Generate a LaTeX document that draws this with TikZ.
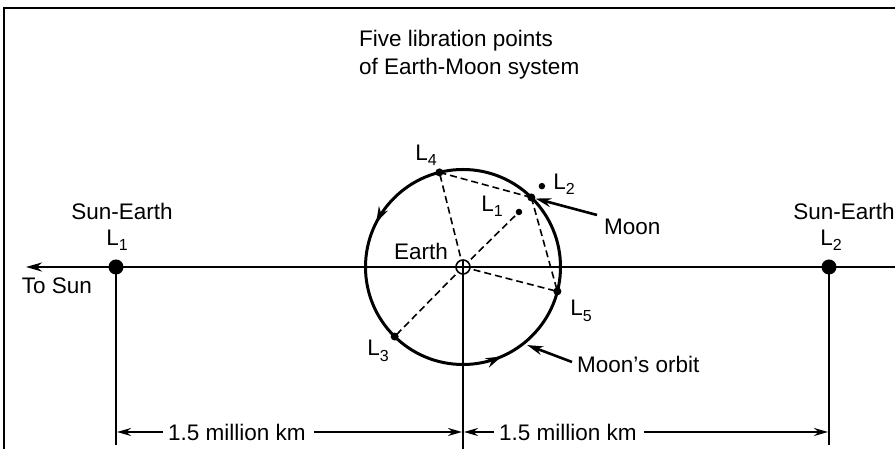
\documentclass[tikz,border=0pt]{standalone}
\usepackage{fontspec}
\setmainfont{Liberation Sans}
\usetikzlibrary{arrows.meta,decorations.markings,calc}
\newcommand{\lsub}[1]{\raisebox{-0.45ex}{\fontsize{16}{16}\selectfont #1}}
\begin{document}
\begin{tikzpicture}[x=1pt,y=1pt,
  lbl/.style={font=\fontsize{22.5}{27}\selectfont, inner sep=0pt},
  frame/.style={line width=2.8pt},
  axis/.style={line width=2.4pt},
  vline/.style={line width=2.4pt},
  dsh/.style={line width=1.6pt, dash pattern=on 7pt off 4pt},
  bigdot/.style={circle, fill, inner sep=0pt, minimum size=15pt},
  pdot/.style={circle, fill, inner sep=0pt, minimum size=8pt},
  sdot/.style={circle, fill, inner sep=0pt, minimum size=6.5pt},
  dimarr/.style={line width=2pt, -{Stealth[length=14pt,width=8pt]}},
  pointer/.style={line width=2.6pt, -{Stealth[length=16pt,width=9pt]}}
]
\useasboundingbox (0,0) rectangle (895,449);
% frame
\coordinate (FTL) at (4,441);
\coordinate (FTR) at (895,441);
\coordinate (FBL) at (4,0);
\draw[frame] (FTR) -- (FTL) -- (FBL);

% axis
\coordinate (E) at (463,182);
\coordinate (AxR) at (895,182);
\coordinate (AxL) at (26,182);
\node[bigdot] (SEL1) at (116,182) {};
\node[bigdot] (SEL2) at (829,182) {};
\draw[axis, -{Stealth[length=16pt,width=9pt]}] (AxR) -- (AxL);

% verticals
\coordinate (V1) at (116,4);
\coordinate (V2) at (463,0);
\coordinate (V3) at (829,4);
\draw[vline] (SEL1.center) -- (V1);
\draw[vline] (E) -- (V2);
\draw[vline] (SEL2.center) -- (V3);

% orbit
\draw[line width=3pt, postaction={decorate}, decoration={markings,
   mark=at position 0.425 with {\arrow{Stealth[length=16pt,width=10pt]}},
   mark=at position 0.815 with {\arrow{Stealth[length=16pt,width=10pt]}}}]
   (E) circle (97.5);

% libration points
\node[pdot] (L4) at ($(E)+(104:97.5)$) {};
\node[pdot] (Moon) at ($(E)+(45.5:97.5)$) {};
\node[pdot] (L5) at ($(E)+(-14.5:97.5)$) {};
\node[pdot] (L3) at ($(E)+(225.5:97.5)$) {};
\node[sdot] (L1) at ($(E)+(44.5:78.5)$) {};
\node[sdot] (L2) at ($(E)+(45.7:113)$) {};

% dashed
\draw[dsh] (E) -- (L4.center);
\draw[dsh] (E) -- (L1.center);
\draw[dsh] (E) -- (L3.center);
\draw[dsh] (E) -- (L5.center);
\draw[dsh] (L4.center) -- (Moon.center);
\draw[dsh] (Moon.center) -- (L5.center);

% earth symbol
\node[circle, draw, line width=1.6pt, fill=white, inner sep=0pt, minimum size=14pt] (Earth) at (E) {};
\draw[line width=1.6pt] ($(E)+(-7,0)$) -- ($(E)+(7,0)$);
\draw[line width=1.6pt] ($(E)+(0,-7)$) -- ($(E)+(0,7)$);

% labels
\node[lbl, align=left, anchor=north west] (title) at (359,419) {Five libration points\\[1pt]of Earth-Moon system};
\node[lbl] (tL4) at (426,294) {L\lsub{4}};
\node[lbl] (tL2) at (564,265) {L\lsub{2}};
\node[lbl] (tL1) at (492,243) {L\lsub{1}};
\node[lbl] (tEarth) at (421,198) {Earth};
\node[lbl] (tL5) at (581,138) {L\lsub{5}};
\node[lbl] (tL3) at (378,98) {L\lsub{3}};
\node[lbl, anchor=west] (tMoon) at (604,222) {Moon};
\node[lbl, anchor=west] (tOrbit) at (577,85) {Moon's orbit};
\node[lbl] (tSE1) at (122,238) {Sun-Earth};
\node[lbl] (tSEL1) at (117,209) {L\lsub{1}};
\node[lbl] (tSun) at (57,163) {To Sun};
\node[lbl] (tSE2) at (844,238) {Sun-Earth};
\node[lbl] (tSEL2) at (831,209) {L\lsub{2}};

% pointers
\coordinate (MoonTail) at (597,234);
\coordinate (OrbTail) at (572,87);
\coordinate (OrbHead) at ($(E)+(-50.6:101)$);
\draw[pointer] (MoonTail) -- (Moon);
\draw[pointer] (OrbTail) -- (OrbHead);

% dimensions
\node[lbl] (d1) at (237,17) {1.5 million km};
\node[lbl] (d2) at (568,17) {1.5 million km};
\coordinate (D1L) at (117,17);
\coordinate (D1R) at (462,17);
\coordinate (D2L) at (464,17);
\coordinate (D2R) at (828,17);
\draw[dimarr] ([xshift=-5pt]d1.west) -- (D1L);
\draw[dimarr] ([xshift=8pt]d1.east) -- (D1R);
\draw[dimarr] ([xshift=-5pt]d2.west) -- (D2L);
\draw[dimarr] ([xshift=7pt]d2.east) -- (D2R);
\end{tikzpicture}
\end{document}
